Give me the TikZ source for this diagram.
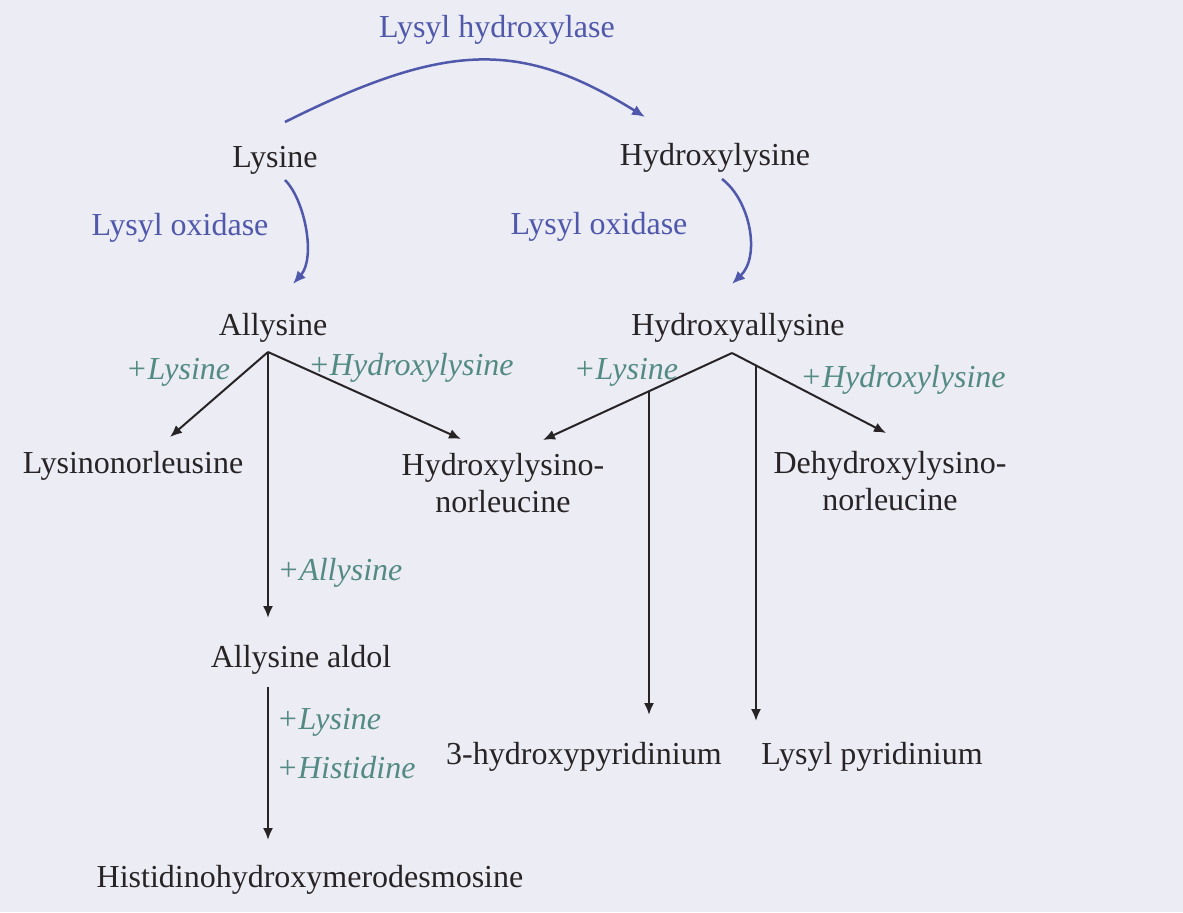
\documentclass[tikz,border=0pt]{standalone}
\usepackage{fontspec}
\setmainfont{Liberation Serif}
\usetikzlibrary{arrows.meta}
\newlength{\du}
\setlength{\du}{0.5pt}
\definecolor{paperbg}{rgb}{0.925, 0.925, 0.957}
\definecolor{enzymecolor}{rgb}{0.310, 0.345, 0.667}
\definecolor{addcolor}{rgb}{0.325, 0.545, 0.518}
\definecolor{inkcolor}{rgb}{0.157, 0.141, 0.149}
\tikzset{
  compound/.style={inner sep=0pt, text=inkcolor, align=center, font=\fontsize{16}{18.5}\selectfont},
  enzyme/.style={compound, text=enzymecolor},
  adduct/.style={compound, text=addcolor, font=\fontsize{16}{18.5}\selectfont\itshape},
  enzarrow/.style={draw=enzymecolor, line width=1.25pt, -{Latex[length=6.5pt,width=5.5pt]}},
  crossarrow/.style={draw=inkcolor, line width=1pt, -{Latex[length=6pt,width=5pt]}},
}

\begin{document}
\begin{tikzpicture}
\pgftransformxscale{1.000000}
\pgftransformyscale{-1.000000}
\fill[paperbg] (0.000000\du,0.000000\du)--(0.000000\du,912.000000\du)--(1183.000000\du,912.000000\du)--(1183.000000\du,0.000000\du)--cycle;
\useasboundingbox (0.000000\du,0.000000\du) rectangle (1183.000000\du,912.000000\du);
% compounds
\node[compound] (lys) at (275.000000\du,160.000000\du){Lysine};
\node[compound] (hlys) at (715.000000\du,158.000000\du){Hydroxylysine};
\node[compound] (ally) at (273.000000\du,328.000000\du){Allysine};
\node[compound] (hally) at (738.000000\du,328.000000\du){Hydroxyallysine};
\node[compound] (lnl) at (133.000000\du,466.000000\du){Lysinonorleusine};
\node[compound] (hlnl) at (503.000000\du,483.000000\du){Hydroxylysino-\\norleucine};
\node[compound] (dhlnl) at (890.000000\du,481.000000\du){Dehydroxylysino-\\norleucine};
\node[compound] (aldol) at (301.000000\du,660.000000\du){Allysine aldol};
\node[compound] (hpyr) at (584.000000\du,757.000000\du){3-hydroxypyridinium};
\node[compound] (lpyr) at (872.000000\du,757.000000\du){Lysyl pyridinium};
\node[compound] (hhmd) at (310.000000\du,880.000000\du){Histidinohydroxymerodesmosine};
% enzymes
\node[enzyme] (lhase) at (497.000000\du,30.000000\du){Lysyl hydroxylase};
\node[enzyme] (loxa) at (180.000000\du,228.000000\du){Lysyl oxidase};
\node[enzyme] (loxb) at (599.000000\du,227.000000\du){Lysyl oxidase};
% added residues
\node[adduct] (addlysa) at (178.000000\du,372.000000\du){+Lysine};
\node[adduct] (addhlysa) at (411.000000\du,368.000000\du){+Hydroxylysine};
\node[adduct] (addlysb) at (626.000000\du,372.000000\du){+Lysine};
\node[adduct] (addhlysb) at (903.000000\du,380.000000\du){+Hydroxylysine};
\node[adduct] (addally) at (340.000000\du,573.000000\du){+Allysine};
\node[adduct] (addlysc) at (329.000000\du,722.000000\du){+Lysine};
\node[adduct] (addhis) at (346.000000\du,768.000000\du){+Histidine};
% arrow ends
\coordinate (lysarc) at (285.000000\du,122.000000\du);
\coordinate (hlysarc) at (645.000000\du,117.000000\du);
\coordinate (lysox) at (285.000000\du,180.000000\du);
\coordinate (allyin) at (293.000000\du,284.000000\du);
\coordinate (hlysox) at (722.000000\du,179.000000\du);
\coordinate (hallyin) at (732.000000\du,284.000000\du);
\coordinate (allyfork) at (268.000000\du,352.000000\du);
\coordinate (lnlin) at (170.000000\du,437.000000\du);
\coordinate (hlnlin) at (461.000000\du,439.000000\du);
\coordinate (aldolin) at (268.000000\du,618.000000\du);
\coordinate (hallyfork) at (732.000000\du,353.000000\du);
\coordinate (hlnlinb) at (543.000000\du,440.000000\du);
\coordinate (dhlnlin) at (886.000000\du,433.000000\du);
\coordinate (hpyrbr) at (649.000000\du,391.000000\du);
\coordinate (hpyrin) at (649.000000\du,715.000000\du);
\coordinate (lpyrbr) at (756.000000\du,365.000000\du);
\coordinate (lpyrin) at (756.000000\du,721.000000\du);
\coordinate (aldolout) at (268.000000\du,687.000000\du);
\coordinate (hhmdin) at (268.000000\du,840.000000\du);
% enzyme steps
\draw[enzarrow] (lysarc) .. controls (449.000000\du,40.000000\du) and (522.000000\du,41.000000\du) .. (hlysarc);
\draw[enzarrow] (lysox) .. controls (305.000000\du,200.000000\du) and (316.000000\du,258.000000\du) .. (allyin);
\draw[enzarrow] (hlysox) .. controls (750.000000\du,200.000000\du) and (761.000000\du,256.000000\du) .. (hallyin);
% cross-links
\draw[crossarrow] (allyfork)--(lnlin);
\draw[crossarrow] (allyfork)--(hlnlin);
\draw[crossarrow] (allyfork)--(aldolin);
\draw[crossarrow] (hallyfork)--(hlnlinb);
\draw[crossarrow] (hallyfork)--(dhlnlin);
\draw[crossarrow] (hpyrbr)--(hpyrin);
\draw[crossarrow] (lpyrbr)--(lpyrin);
\draw[crossarrow] (aldolout)--(hhmdin);
\end{tikzpicture}
\end{document}
